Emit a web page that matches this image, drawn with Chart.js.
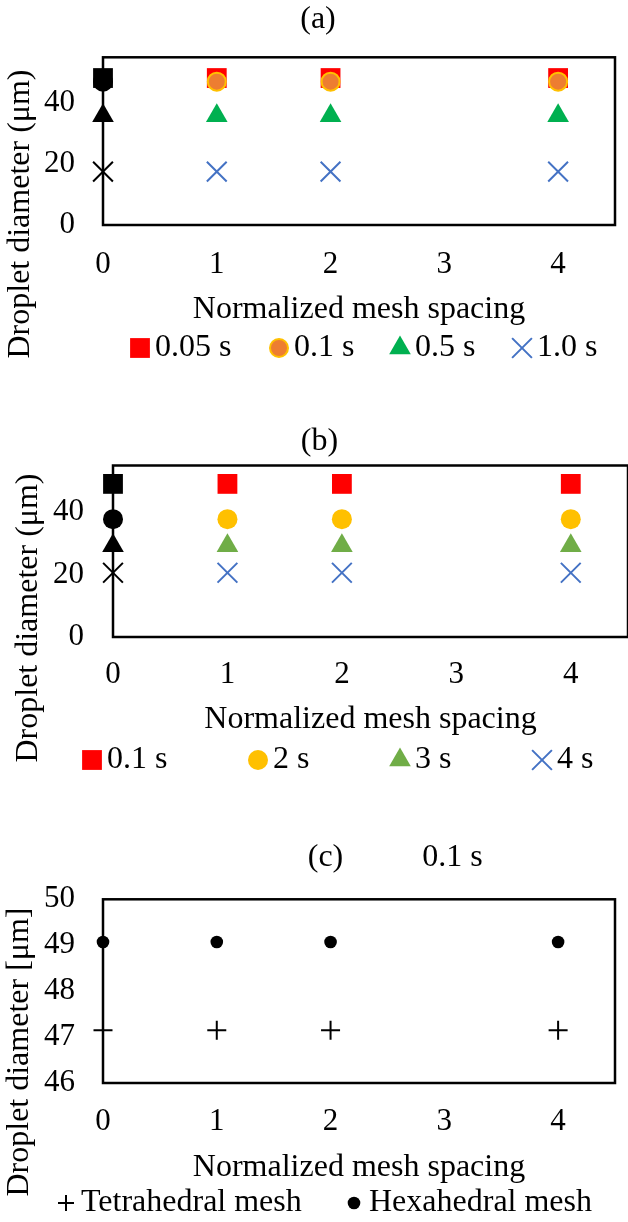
<!DOCTYPE html>
<html lang="en">
<head>
<meta charset="UTF-8">
<title>Droplet diameter vs normalized mesh spacing</title>
<style>
  body { margin: 0; background: #fff; }
  .wrap { position: relative; width: 628px; height: 1222px; }
  canvas { position: absolute; left: 0; }
</style>
</head>
<body>
<div class="wrap">
  <canvas id="chartA" width="628" height="390" style="top:0"></canvas>
  <canvas id="chartB" width="628" height="390" style="top:400px"></canvas>
  <canvas id="chartC" width="628" height="422" style="top:800px"></canvas>
</div>
<script src="https://cdn.jsdelivr.net/npm/chart.js"></script>
<script>
// x positions of the runs (normalized mesh spacing)
const meshSpacing = [0, 1, 2, 4];

// (a) droplet diameter, um
const timesA = ['0.05 s', '0.1 s', '0.5 s', '1.0 s'];
const diamA_005 = [48.2, 48.2, 48.2, 48.2];
const diamA_01 = [47.0, 47.0, 47.0, 47.0];
const diamA_05 = [35.8, 35.8, 35.8, 35.8];
const diamA_10 = [17.5, 17.5, 17.5, 17.5];

// (b)
const timesB = ['0.1 s', '2 s', '3 s', '4 s'];
const diamB_01 = [49.1, 49.1, 49.1, 49.1];
const diamB_2 = [37.8, 37.8, 37.8, 37.8];
const diamB_3 = [29.3, 29.3, 29.3, 29.3];
const diamB_4 = [20.6, 20.6, 20.6, 20.6];

// (c) 0.1 s, two mesh types
const meshTypes = ['Tetrahedral mesh', 'Hexahedral mesh'];
const diamC_tet = [47.15, 47.15, 47.15, 47.15];
const diamC_hex = [49.07, 49.07, 49.07, 49.07];

const FONT = "'Liberation Serif', 'Times New Roman', serif";
const TXT = 32; // titles and legend
Chart.defaults.font.family = FONT;
Chart.defaults.font.size = 31;
Chart.defaults.color = '#000';

// marker looks
const redSq = { style: 'rect', r: 14, fill: '#FF0000' };
const orangeDot = { style: 'circle', r: 9, fill: '#ED7D31', stroke: '#FFC000', lw: 2 };
const greenTri = { style: 'triangle', r: 12.5, fill: '#00B050' };
const blueX = { style: 'crossRot', r: 14, fill: '#4472C4', stroke: '#4472C4', lw: 2 };
const goldDot = { style: 'circle', r: 10, fill: '#FFC000' };
const oliveTri = { style: 'triangle', r: 12.5, fill: '#70AD47' };
const plus = { style: 'cross', r: 9.5, lr: 8, fill: '#000', stroke: '#000', lw: 2 };
const blackDot = { style: 'circle', r: 6.3, fill: '#000' };

function makeSet(label, ys, st, i, n, blackFirst) {
  const col = c => ys.map((_, j) => (blackFirst && j === 0) ? '#000' : c);
  return {
    label: label,
    data: meshSpacing.map((x, j) => ({ x: x, y: ys[j] })),
    order: n - i,
    clip: false,
    pointStyle: st.style,
    pointRadius: st.r,
    pointHoverRadius: st.r,
    pointBackgroundColor: col(st.fill),
    pointBorderColor: col(st.stroke || st.fill),
    pointBorderWidth: st.lw || 0,
    mk: st
  };
}

// frame, rotated y title, hand-placed legend and notes
const extras = {
  id: 'extras',
  beforeDatasetsDraw(chart) {
    const { ctx, chartArea: a } = chart;
    ctx.save();
    ctx.strokeStyle = '#000';
    ctx.lineWidth = 2.5;
    ctx.strokeRect(a.left, a.top, a.right - a.left, a.bottom - a.top);
    ctx.restore();
  },
  afterDraw(chart, args, o) {
    const ctx = chart.ctx;
    ctx.save();
    ctx.font = TXT + 'px ' + FONT;
    ctx.fillStyle = '#000';
    ctx.textBaseline = 'middle';

    ctx.save();
    ctx.translate(o.yTitle.x, o.yTitle.y);
    ctx.rotate(-Math.PI / 2);
    ctx.textAlign = 'center';
    ctx.fillText(o.yTitle.text, 0, 0);
    ctx.restore();

    (o.notes || []).forEach(n => {
      ctx.textAlign = 'center';
      ctx.fillText(n.text, n.x, n.y);
    });

    chart.data.datasets.forEach((ds, i) => {
      const st = ds.mk;
      const cx = o.legend.xs[i], cy = o.legend.y;
      ctx.save();
      ctx.fillStyle = st.fill;
      ctx.strokeStyle = st.stroke || st.fill;
      ctx.lineWidth = st.lw || 0;
      Chart.helpers.drawPoint(ctx, { pointStyle: st.style, radius: st.lr || st.r, rotation: 0, borderWidth: st.lw || 0 }, cx, cy);
      ctx.restore();
      ctx.textAlign = 'left';
      ctx.fillText(ds.label, cx + 15, cy);
    });
    ctx.restore();
  }
};

function panel(id, c) {
  return new Chart(document.getElementById(id), {
    type: 'scatter',
    data: { datasets: c.sets },
    options: {
      responsive: false,
      animation: false,
      events: [],
      layout: { padding: c.pad, autoPadding: false },
      plugins: {
        legend: { display: false },
        tooltip: { enabled: false },
        title: { display: true, text: c.title, font: { size: TXT, weight: 'normal' }, color: '#000', padding: { top: 0, bottom: c.titleGap } },
        extras: { yTitle: c.yTitle, legend: c.legend, notes: c.notes }
      },
      scales: {
        x: {
          type: 'linear', min: 0, max: 4.5,
          grid: { display: false, drawTicks: false },
          border: { display: false },
          ticks: { stepSize: 1, includeBounds: false, padding: c.xTickPad, maxRotation: 0 },
          title: { display: true, text: 'Normalized mesh spacing', font: { size: TXT }, padding: 0 },
          afterFit: s => { s.height = c.xHeight; s.paddingLeft = 0; s.paddingRight = 0; }
        },
        y: {
          type: 'linear', min: c.yMin, max: c.yMax,
          grid: { display: false, drawTicks: false },
          border: { display: false },
          ticks: { stepSize: c.yStep, includeBounds: false, padding: c.yTickPad },
          afterFit: s => { s.width = c.yWidth; }
        }
      }
    },
    plugins: [extras]
  });
}

panel('chartA', {
  title: '(a)',
  sets: [
    makeSet(timesA[0], diamA_005, redSq, 0, 4, true),
    makeSet(timesA[1], diamA_01, orangeDot, 1, 4, true),
    makeSet(timesA[2], diamA_05, greenTri, 2, 4, true),
    makeSet(timesA[3], diamA_10, blueX, 3, 4, true)
  ],
  pad: { top: 0.8, left: 21, right: 13, bottom: 60.8 },
  titleGap: 18.1,
  yMin: 0, yMax: 55, yStep: 20, yTickPad: 28, yWidth: 82,
  xTickPad: 21.4, xHeight: 104.2,
  yTitle: { text: 'Droplet diameter (μm)', x: 21, y: 214 },
  legend: { y: 348, xs: [140, 279, 400, 522] }
});

panel('chartB', {
  title: '(b)',
  sets: [
    makeSet(timesB[0], diamB_01, redSq, 0, 4, true),
    makeSet(timesB[1], diamB_2, goldDot, 1, 4, true),
    makeSet(timesB[2], diamB_3, oliveTri, 2, 4, true),
    makeSet(timesB[3], diamB_4, blueX, 3, 4, true)
  ],
  pad: { top: 22.8, left: 11, right: 0, bottom: 50.8 },
  titleGap: 4.3,
  yMin: 0, yMax: 55, yStep: 20, yTickPad: 29, yWidth: 102,
  xTickPad: 19.4, xHeight: 102.2,
  yTitle: { text: 'Droplet diameter (μm)', x: 29, y: 218 },
  legend: { y: 360, xs: [92, 258, 400, 542] }
});

panel('chartC', {
  title: '(c)',
  sets: [
    makeSet(meshTypes[0], diamC_tet, plus, 0, 2, false),
    makeSet(meshTypes[1], diamC_hex, blackDot, 1, 2, false)
  ],
  pad: { top: 38.8, left: 36, right: 13, bottom: 34.8 },
  titleGap: 22.1,
  yMin: 46, yMax: 50, yStep: 1, yTickPad: 28, yWidth: 67,
  xTickPad: 20.4, xHeight: 104.2,
  yTitle: { text: 'Droplet diameter [μm]', x: 20, y: 252 },
  legend: { y: 403, xs: [66, 354] },
  notes: [{ text: '0.1 s', x: 452.5, y: 58 }]
});
</script>
</body>
</html>
